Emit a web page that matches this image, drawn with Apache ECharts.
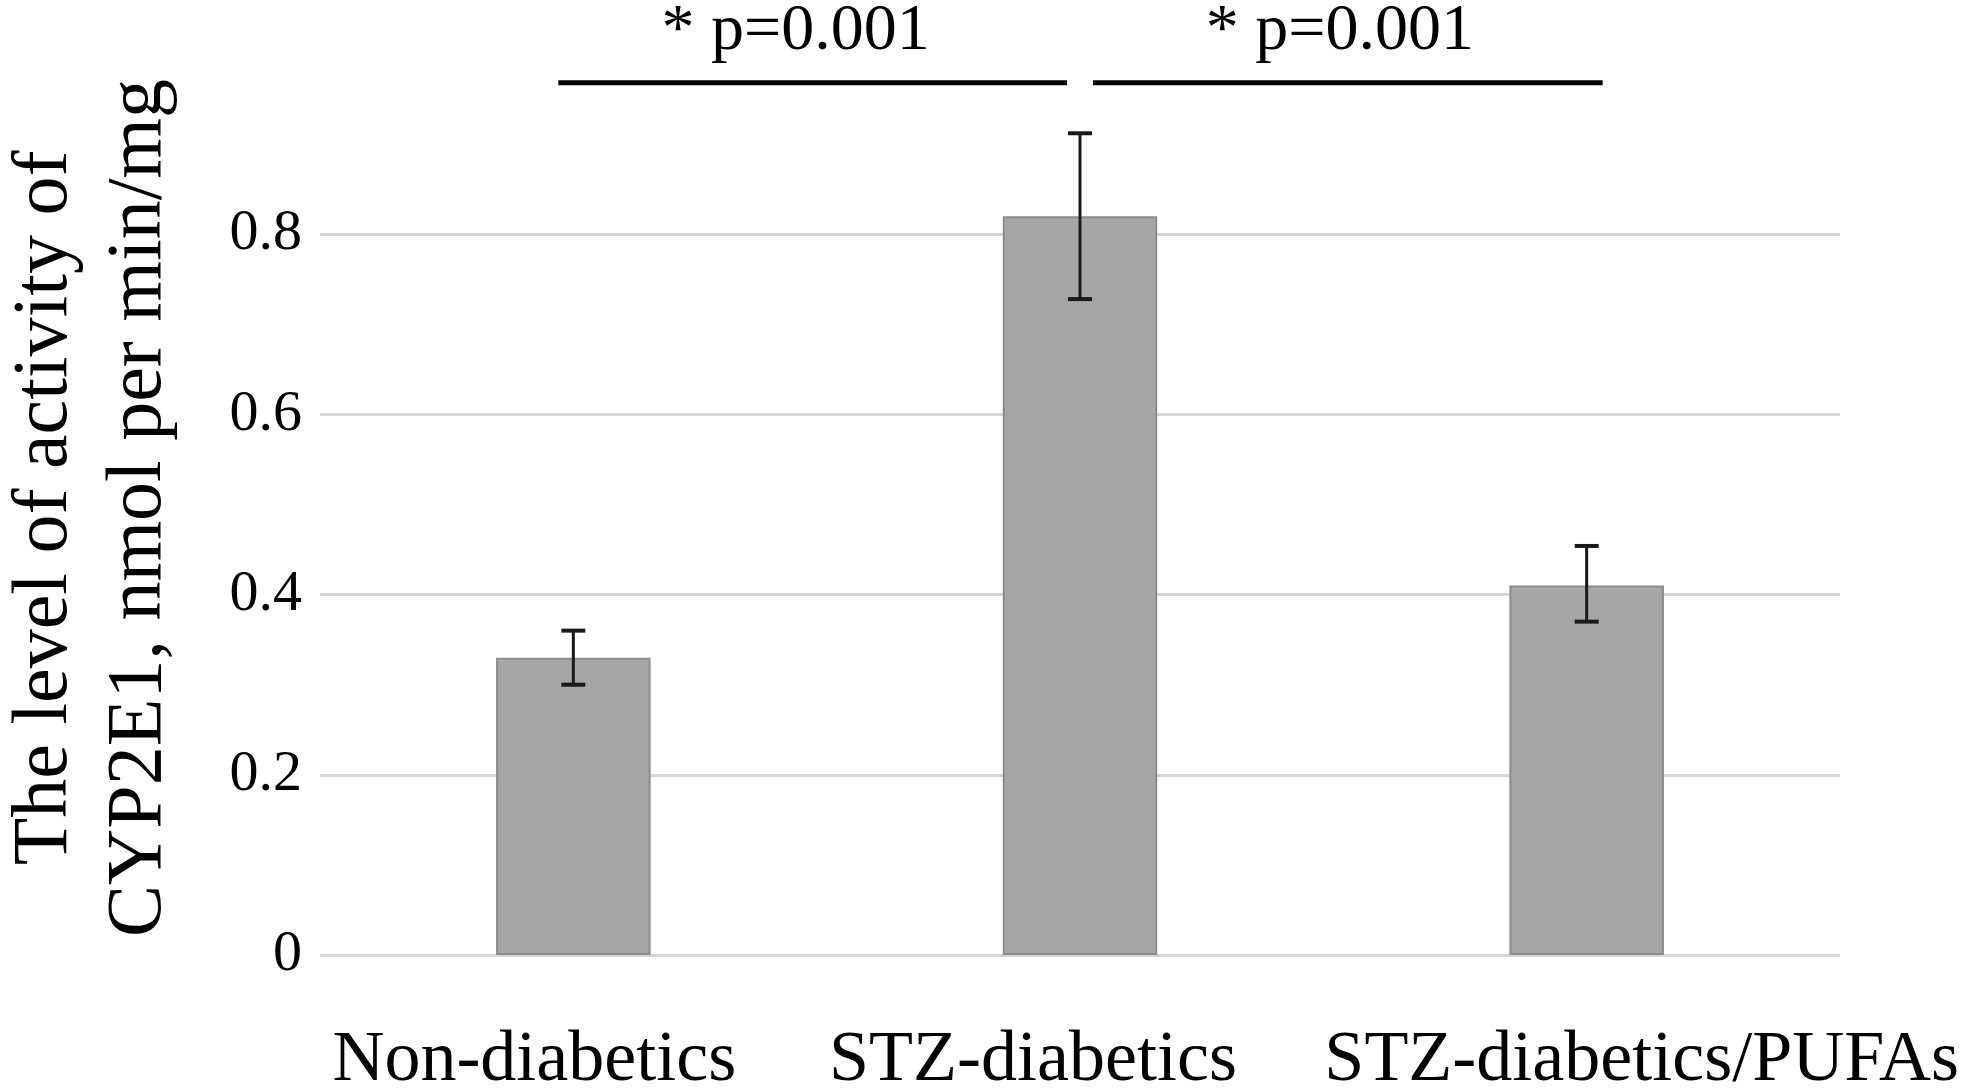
<!DOCTYPE html>
<html><head><meta charset="utf-8">
<script src="https://cdn.jsdelivr.net/npm/echarts@6/dist/echarts.min.js"></script>
<style>html,body{margin:0;padding:0;background:#fff}#c{width:1969px;height:1090px}</style>
</head><body><div id="c"></div>
<script>
// ---- data ----
const categories = ['Non-diabetics', 'STZ-diabetics', 'STZ-diabetics/PUFAs'];
const means = [0.33, 0.82, 0.41];
const errLow = [0.30, 0.728, 0.37];
const errHigh = [0.36, 0.912, 0.454];
const yTickMax = 0.8;
const sigPairs = [[0, 1], [1, 2]];
const sigLabels = ['* p=0.001', '* p=0.001'];
const sigLevel = 0.968;
const yTitle = 'The level of activity of\nCYP2E1, nmol per min/mg';

// ---- style ----
const FONT = "'Liberation Serif', 'Times New Roman', serif";
const sigInset = [[-15, -13], [13, 16]];
const sigTextShift = [-17, -8];
const catLabelStyle = ['l0', 'l1', 'l2'];

const chart = echarts.init(document.getElementById('c'), null, {renderer: 'canvas'});

const errData = categories.map((c, i) => [i, errLow[i], errHigh[i]]);
const sigData = sigPairs.map((p, i) => [p[0], p[1], sigLevel, i]);

chart.setOption({
  backgroundColor: '#fff',
  animation: false,
  grid: {left: 320, right: 129, top: 54, bottom: 135, containLabel: false, outerBoundsMode: 'none'},
  graphic: [{
    type: 'text',
    x: 93, y: 508,
    rotation: Math.PI / 2,
    style: {
      text: yTitle,
      align: 'center', verticalAlign: 'middle',
      fontFamily: FONT, fontSize: 78, lineHeight: 94, fill: '#000'
    }
  }],
  xAxis: {
    type: 'category',
    data: categories,
    axisLine: {show: false},
    axisTick: {show: false},
    splitLine: {show: false},
    axisLabel: {
      interval: 0,
      margin: 70,
      color: '#000',
      fontFamily: FONT,
      fontSize: 72,
      formatter: (v, i) => '{' + catLabelStyle[i] + '|' + v + '}',
      rich: {
        l0: {fontFamily: FONT, fontSize: 72, color: '#000', padding: [0, 78, 0, 0]},
        l1: {fontFamily: FONT, fontSize: 72, color: '#000', padding: [0, 94, 0, 0]},
        l2: {fontFamily: FONT, fontSize: 72, color: '#000', padding: [0, 0, 0, 110]}
      }
    }
  },
  yAxis: {
    type: 'value',
    min: 0,
    max: 1,
    interval: 0.2,
    axisLine: {show: false},
    axisTick: {show: false},
    axisLabel: {
      margin: 18,
      color: '#000',
      fontFamily: FONT,
      fontSize: 58,
      formatter: v => (v > yTickMax + 1e-9 ? '' : String(+v.toFixed(1)))
    },
    splitLine: {
      show: true,
      lineStyle: {
        width: 3,
        color: ['#d6d6d6', '#d6d6d6', '#d6d6d6', '#d6d6d6', '#d6d6d6', 'rgba(0,0,0,0)']
      }
    }
  },
  series: [
    {
      type: 'bar',
      data: means,
      barWidth: '30.5%',
      itemStyle: {color: '#a6a6a6', borderColor: '#8c8c8c', borderWidth: 2},
      z: 2
    },
    {
      type: 'custom',
      data: errData,
      z: 5,
      renderItem: (params, api) => {
        const lo = api.coord([api.value(0), api.value(1)]);
        const hi = api.coord([api.value(0), api.value(2)]);
        const cap = 12;
        return {
          type: 'group',
          children: [
            {type: 'line', shape: {x1: lo[0], y1: lo[1], x2: hi[0], y2: hi[1]}, style: {stroke: '#1a1a1a', lineWidth: 3}},
            {type: 'line', shape: {x1: lo[0] - cap, y1: lo[1], x2: lo[0] + cap, y2: lo[1]}, style: {stroke: '#1a1a1a', lineWidth: 4}},
            {type: 'line', shape: {x1: hi[0] - cap, y1: hi[1], x2: hi[0] + cap, y2: hi[1]}, style: {stroke: '#1a1a1a', lineWidth: 4}}
          ]
        };
      }
    },
    {
      type: 'custom',
      data: sigData,
      z: 5,
      clip: false,
      renderItem: (params, api) => {
        const idx = api.value(3);
        const a = api.coord([api.value(0), api.value(2)]);
        const b = api.coord([api.value(1), api.value(2)]);
        const x1 = a[0] + sigInset[idx][0];
        const x2 = b[0] + sigInset[idx][1];
        const y = a[1];
        return {
          type: 'group',
          children: [
            {type: 'line', shape: {x1: x1, y1: y, x2: x2, y2: y}, style: {stroke: '#000', lineWidth: 5}},
            {type: 'text', style: {
              text: sigLabels[idx], x: (x1 + x2) / 2 + sigTextShift[idx], y: y - 18,
              align: 'center', verticalAlign: 'bottom',
              fontFamily: FONT, fontSize: 66, fill: '#000'
            }}
          ]
        };
      }
    }
  ]
});
</script>
</body></html>
